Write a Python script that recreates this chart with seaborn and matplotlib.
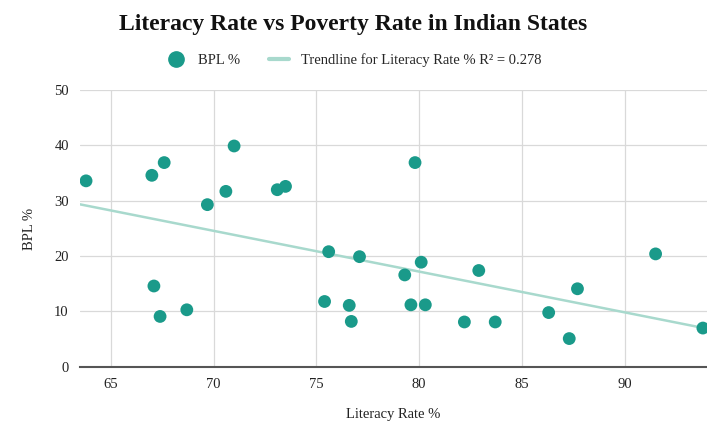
import numpy as np
import pandas as pd
import matplotlib
matplotlib.use("Agg")
import matplotlib.pyplot as plt
import seaborn as sns
from matplotlib.lines import Line2D

# values
literacy = [63.8, 67.0, 67.6, 71.0, 70.6, 69.7, 73.1, 73.5, 75.6, 77.1,
            67.1, 67.4, 68.7, 75.4, 76.6, 76.7, 79.8, 80.1, 79.3, 79.6,
            80.3, 82.9, 82.2, 83.7, 86.3, 87.7, 87.3, 91.5, 93.8]
bpl = [33.6, 34.6, 36.9, 39.9, 31.7, 29.3, 32.0, 32.6, 20.8, 19.9,
       14.6, 9.1, 10.3, 11.8, 11.1, 8.2, 36.9, 18.9, 16.6, 11.2,
       11.2, 17.4, 8.1, 8.1, 9.8, 14.1, 5.1, 20.4, 7.0]
x_ticks = [65, 70, 75, 80, 85, 90]
y_ticks = [0, 10, 20, 30, 40, 50]
r2_label = "0.278"

df = pd.DataFrame({"Literacy Rate %": literacy, "BPL %": bpl})

point_color = "#1a9a8a"
trend_color = "#a8d9cd"

sns.set_theme(style="whitegrid")
plt.rcParams['font.family'] = ['Liberation Serif', 'DejaVu Serif']

fig = plt.figure(figsize=(7.07, 4.29), dpi=100)
ax = fig.add_axes([0.113, 0.145, 0.887, 0.645])

ax.set_xlim(63.5, 94.0)
sns.scatterplot(data=df, x="Literacy Rate %", y="BPL %", ax=ax, s=85,
                color=point_color, edgecolor="none", zorder=3)
# trendline spans the full axis width
sns.regplot(data=df, x="Literacy Rate %", y="BPL %", scatter=False, ci=None,
            truncate=False, ax=ax, line_kws={"color": trend_color, "lw": 1.8})
ax.set_xlim(63.5, 94.0)
ax.set_ylim(0, 50)
ax.set_xticks(x_ticks)
ax.set_yticks(y_ticks)

ax.grid(True, color="#d9d9d9", lw=0.9)
for side in ["left", "right", "top"]:
    ax.spines[side].set_visible(False)
ax.spines["bottom"].set_color("#555555")
ax.spines["bottom"].set_linewidth(1.5)
ax.tick_params(axis="both", length=0, labelsize=10.5, colors="#222222", pad=8)

ax.set_xlabel("Literacy Rate %", fontsize=10.5, labelpad=12, color="#222222")
ax.set_ylabel("BPL %", fontsize=10.5, labelpad=13, color="#222222")

fig.suptitle("Literacy Rate vs Poverty Rate in Indian States", fontsize=17,
             fontweight="bold", y=0.968, color="#111111")

handles = [
    Line2D([], [], marker="o", ls="none", color=point_color, markersize=11),
    Line2D([], [], color=trend_color, lw=3),
]
labels = ["BPL %", "Trendline for Literacy Rate % R\u00b2 = " + r2_label]
fig.legend(handles, labels, loc="center", bbox_to_anchor=(0.5, 0.86), ncol=2,
           frameon=False, fontsize=10.5, handlelength=1.4, columnspacing=2.0)

fig.savefig("out.png", dpi=100)
